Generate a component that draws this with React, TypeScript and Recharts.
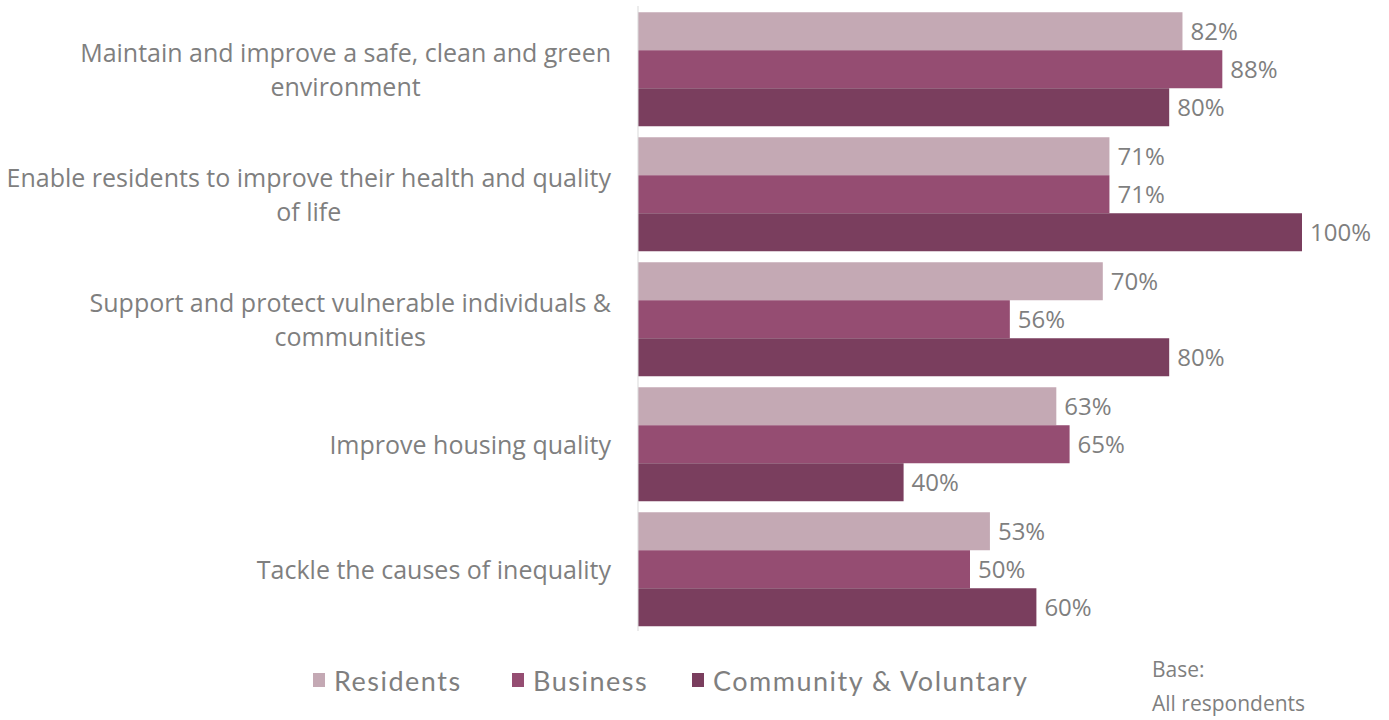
import React from 'react';
import { BarChart, Bar, XAxis, YAxis, LabelList } from 'recharts';

const categories = [
  ['Maintain and improve a safe, clean and green', 'environment'],
  ['Enable residents to improve their health and quality', 'of life'],
  ['Support and protect vulnerable individuals &', 'communities'],
  ['Improve housing quality'],
  ['Tackle the causes of inequality'],
];
const residents = [82, 71, 70, 63, 53];
const business = [88, 71, 56, 65, 50];
const community = [80, 100, 80, 40, 60];

const seriesNames = ['Residents', 'Business', 'Community & Voluntary'];
const colors = ['#c4a9b4', '#954d72', '#7a3e5e'];

const data = categories.map((lines, i) => ({
  name: lines.join('\n'),
  residents: residents[i],
  business: business[i],
  community: community[i],
}));

const FONT = 'Open Sans';
const TICK_SIZE = 25;
const TICK_FONT = `${TICK_SIZE}px "${FONT}"`;
const GREY = '#7f7f7f';

let ctx: CanvasRenderingContext2D | null = null;
const measure = (s: string) => {
  if (!ctx) ctx = document.createElement('canvas').getContext('2d');
  if (!ctx) return s.length * 11;
  ctx.font = TICK_FONT;
  return ctx.measureText(s).width;
};

// right-aligned block of centered lines, like the original
const CategoryTick = (props: any) => {
  const { y, payload } = props;
  const lines: string[] = String(payload.value).split('\n');
  const w = Math.max(...lines.map(measure));
  const cx = 611 - w / 2;
  const lh = 34;
  const startY = y - ((lines.length - 1) * lh) / 2;
  return (
    <text x={cx} y={startY} textAnchor="middle" fill={GREY} fontSize={TICK_SIZE} fontFamily={FONT} dominantBaseline="central">
      {lines.map((l, i) => (
        <tspan key={i} x={cx} y={startY + i * lh}>
          {l}
        </tspan>
      ))}
    </text>
  );
};

const keys = ['residents', 'business', 'community'];

const App = () => {
  return (
    <div style={{ position: 'absolute', left: 0, top: 0, width: 1389, height: 720, background: '#fff', fontFamily: FONT }}>
      <BarChart
        width={1389}
        height={720}
        data={data}
        layout="vertical"
        margin={{ top: 6, right: 87, bottom: 89, left: 0 }}
        barGap={0}
        barCategoryGap="5%"
      >
        <XAxis type="number" domain={[0, 100]} hide />
        <YAxis
          type="category"
          dataKey="name"
          width={638}
          axisLine={{ stroke: '#d9d9d9' }}
          tickLine={false}
          tick={<CategoryTick />}
          interval={0}
        />
        {keys.map((k, i) => (
          <Bar key={k} dataKey={k} name={seriesNames[i]} fill={colors[i]} isAnimationActive={false}>
            <LabelList
              dataKey={k}
              position="right"
              offset={8}
              formatter={(v: any) => `${v}%`}
              fill={GREY}
              fontSize={24}
              fontFamily={FONT}
            />
          </Bar>
        ))}
      </BarChart>

      {/* legend */}
      {[313, 512, 692].map((left, i) => (
        <div key={i} style={{ position: 'absolute', left, top: 662, height: 36, display: 'flex', alignItems: 'center', color: GREY, fontSize: 27, fontFamily: 'Lato', letterSpacing: 1.5 }}>
          <span style={{ display: 'inline-block', width: 12, height: 14, background: colors[i], marginRight: 9 }} />
          {seriesNames[i]}
        </div>
      ))}

      <div style={{ position: 'absolute', left: 1152, top: 652, color: GREY, fontSize: 21, lineHeight: '34px', fontFamily: FONT }}>
        Base:
        <br />
        All respondents
      </div>
    </div>
  );
};

export default App;
